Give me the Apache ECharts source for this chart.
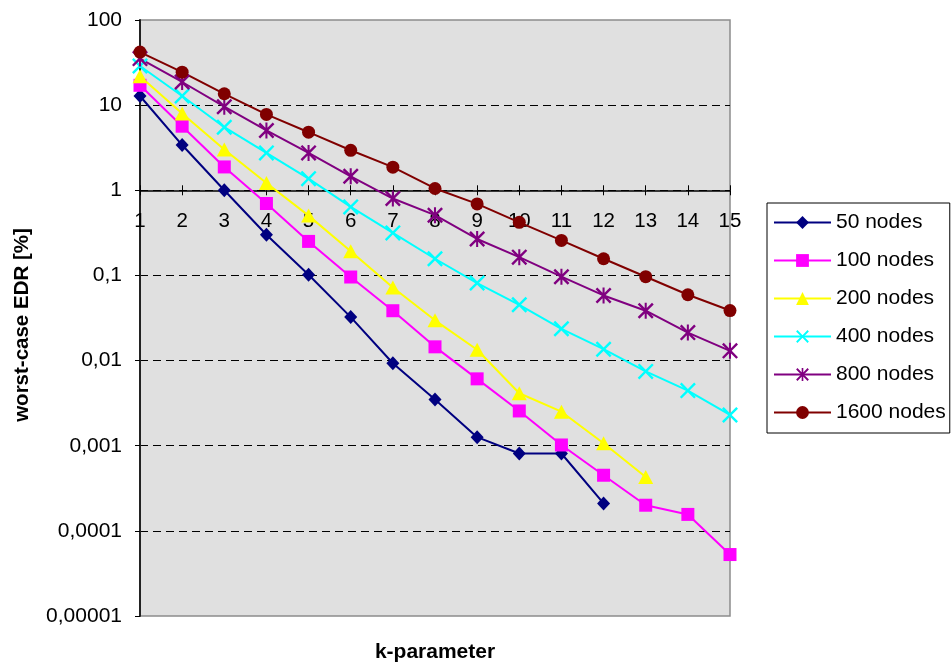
<!DOCTYPE html>
<html>
<head>
<meta charset="utf-8">
<title>worst-case EDR vs k-parameter</title>
<script src="https://cdn.jsdelivr.net/npm/echarts@6/dist/echarts.min.js"></script>
<style>
  html, body { margin: 0; padding: 0; background: #fff; }
  #chart { width: 952px; height: 668px; }
</style>
</head>
<body>
<div id="chart"></div>
<script>
// k-parameter categories
const kValues = ['1', '2', '3', '4', '5', '6', '7', '8', '9', '10', '11', '12', '13', '14', '15'];

// worst-case EDR [%] per network size
const nodes50 = [12.8, 3.4, 1.0, 0.30, 0.102, 0.0324, 0.0093, 0.0035, 0.00126, 0.00081, 0.00081, 0.00021];
const nodes100 = [17.1, 5.66, 1.88, 0.70, 0.251, 0.0958, 0.0385, 0.0145, 0.0061, 0.00256, 0.00102, 0.00045, 0.0002, 0.000156, 0.0000527];
const nodes200 = [21.9, 7.98, 3.01, 1.22, 0.504, 0.192, 0.0722, 0.0297, 0.0134, 0.00413, 0.00251, 0.00107, 0.00043];
const nodes400 = [28.8, 12.8, 5.51, 2.75, 1.37, 0.638, 0.316, 0.157, 0.0814, 0.0452, 0.0236, 0.0136, 0.00746, 0.00444, 0.0023];
const nodes800 = [35.2, 18.7, 9.58, 5.04, 2.75, 1.46, 0.80, 0.51, 0.268, 0.164, 0.0966, 0.0582, 0.0385, 0.0213, 0.013];
const nodes1600 = [42.0, 24.4, 13.6, 7.78, 4.81, 2.95, 1.87, 1.05, 0.692, 0.42, 0.258, 0.157, 0.0966, 0.0593, 0.0387];

const seriesNames = ['50 nodes', '100 nodes', '200 nodes', '400 nodes', '800 nodes', '1600 nodes'];

// y-axis tick labels, from 10^-5 up to 10^2 (decimal comma)
const yTickLabels = ['0,00001', '0,0001', '0,001', '0,01', '0,1', '1', '10', '100'];
const yMin = 0.00001;
const yMax = 100;

const FONT = 'Liberation Sans, Arial, sans-serif';

// diagonal cross and asterisk marker outlines
const crossPath = 'path://M0,1.5 L1.5,0 L7,5.5 L12.5,0 L14,1.5 L8.5,7 L14,12.5 L12.5,14 L7,8.5 L1.5,14 L0,12.5 L5.5,7 Z';
const starPath = 'path://M0,1.5 L1.5,0 L7,5.5 L12.5,0 L14,1.5 L8.5,7 L14,12.5 L12.5,14 L7,8.5 L1.5,14 L0,12.5 L5.5,7 Z M6.1,0 L7.9,0 L7.9,14 L6.1,14 Z';

function lineSeries(name, data, color, symbol, size) {
  return {
    name: name,
    type: 'line',
    data: data,
    xAxisIndex: 0,
    yAxisIndex: 0,
    symbol: symbol,
    symbolSize: size,
    showAllSymbol: true,
    lineStyle: { color: color, width: 2 },
    itemStyle: { color: color, borderWidth: 0 },
    emphasis: { disabled: true }
  };
}

const chart = echarts.init(document.getElementById('chart'), null, { renderer: 'canvas' });

const baseX = {
  type: 'category',
  data: kValues,
  boundaryGap: false,
  position: 'bottom'
};

chart.setOption({
  animation: false,
  backgroundColor: '#ffffff',
  grid: {
    left: 140,
    right: 222,
    top: 20,
    bottom: 52,
    show: true,
    backgroundColor: '#e0e0e0',
    borderColor: '#8c8c8c',
    borderWidth: 1.5,
    containLabel: false,
    outerBoundsMode: 'none'
  },
  legend: {
    orient: 'vertical',
    left: 767,
    top: 203,
    padding: [9, 4, 10, 6],
    itemGap: 17,
    itemWidth: 57,
    itemHeight: 16,
    backgroundColor: '#ffffff',
    borderColor: '#000000',
    borderWidth: 1,
    borderRadius: 0,
    lineStyle: { width: 2 },
    data: seriesNames,
    textStyle: { fontFamily: FONT, fontSize: 21, color: '#000' }
  },
  xAxis: [
    // bottom edge: carries the axis title only
    Object.assign({}, baseX, {
      offset: 0,
      name: 'k-parameter',
      nameLocation: 'middle',
      nameGap: 26,
      nameTextStyle: { fontFamily: FONT, fontSize: 21, fontWeight: 'bold', color: '#000' },
      axisLine: { show: false, onZero: false },
      axisTick: { show: false },
      axisLabel: { show: false },
      splitLine: { show: false }
    }),
    // axis line through y = 1 with labels and downward ticks
    Object.assign({}, baseX, {
      offset: 0,
      axisLine: { show: true, onZero: false, lineStyle: { color: '#000', width: 1.5 } },
      axisTick: { show: true, interval: 0, inside: false, length: 5, lineStyle: { color: '#000', width: 1 } },
      axisLabel: { show: true, interval: 0, margin: 21, fontFamily: FONT, fontSize: 20.5, color: '#000' },
      splitLine: { show: false }
    }),
    // upward half of the crossing ticks
    Object.assign({}, baseX, {
      offset: 0,
      axisLine: { show: false, onZero: false },
      axisTick: { show: true, interval: 0, inside: true, length: 5, lineStyle: { color: '#000', width: 1 } },
      axisLabel: { show: false },
      splitLine: { show: false }
    })
  ],
  yAxis: {
    type: 'log',
    logBase: 10,
    min: yMin,
    max: yMax,
    name: 'worst-case EDR [%]',
    nameLocation: 'middle',
    nameGap: 107,
    nameTextStyle: { fontFamily: FONT, fontSize: 20.5, fontWeight: 'bold', color: '#000', padding: [0, 14, 0, 0] },
    axisLine: { show: true, lineStyle: { color: '#222', width: 2 } },
    axisTick: { show: true, inside: false, length: 5, lineStyle: { color: '#000', width: 1 } },
    axisLabel: {
      margin: 18,
      fontFamily: FONT,
      fontSize: 21,
      color: '#000',
      formatter: function (v) {
        const idx = Math.round(Math.log10(v)) + 5;
        return yTickLabels[idx] !== undefined ? yTickLabels[idx] : '';
      }
    },
    splitLine: {
      show: true,
      showMinLine: false,
      showMaxLine: false,
      lineStyle: { color: '#000', width: 1, type: [8, 5] }
    },
    minorTick: { show: false },
    minorSplitLine: { show: false }
  },
  series: [
    lineSeries(seriesNames[0], nodes50, '#000080', 'diamond', [13, 14]),
    lineSeries(seriesNames[1], nodes100, '#ff00ff', 'rect', 13),
    lineSeries(seriesNames[2], nodes200, '#ffff00', 'triangle', [15, 14]),
    lineSeries(seriesNames[3], nodes400, '#00ffff', crossPath, 16),
    lineSeries(seriesNames[4], nodes800, '#800080', starPath, 16),
    lineSeries(seriesNames[5], nodes1600, '#800000', 'circle', 13)
  ]
});

// move the labelled x axis up to where the log scale places 1
const yOne = chart.convertToPixel({ yAxisIndex: 0 }, 1);
const yBottom = chart.convertToPixel({ yAxisIndex: 0 }, yMin);
const crossOffset = yOne - yBottom;
chart.setOption({
  xAxis: [{}, { offset: crossOffset }, { offset: crossOffset }]
});
</script>
</body>
</html>
